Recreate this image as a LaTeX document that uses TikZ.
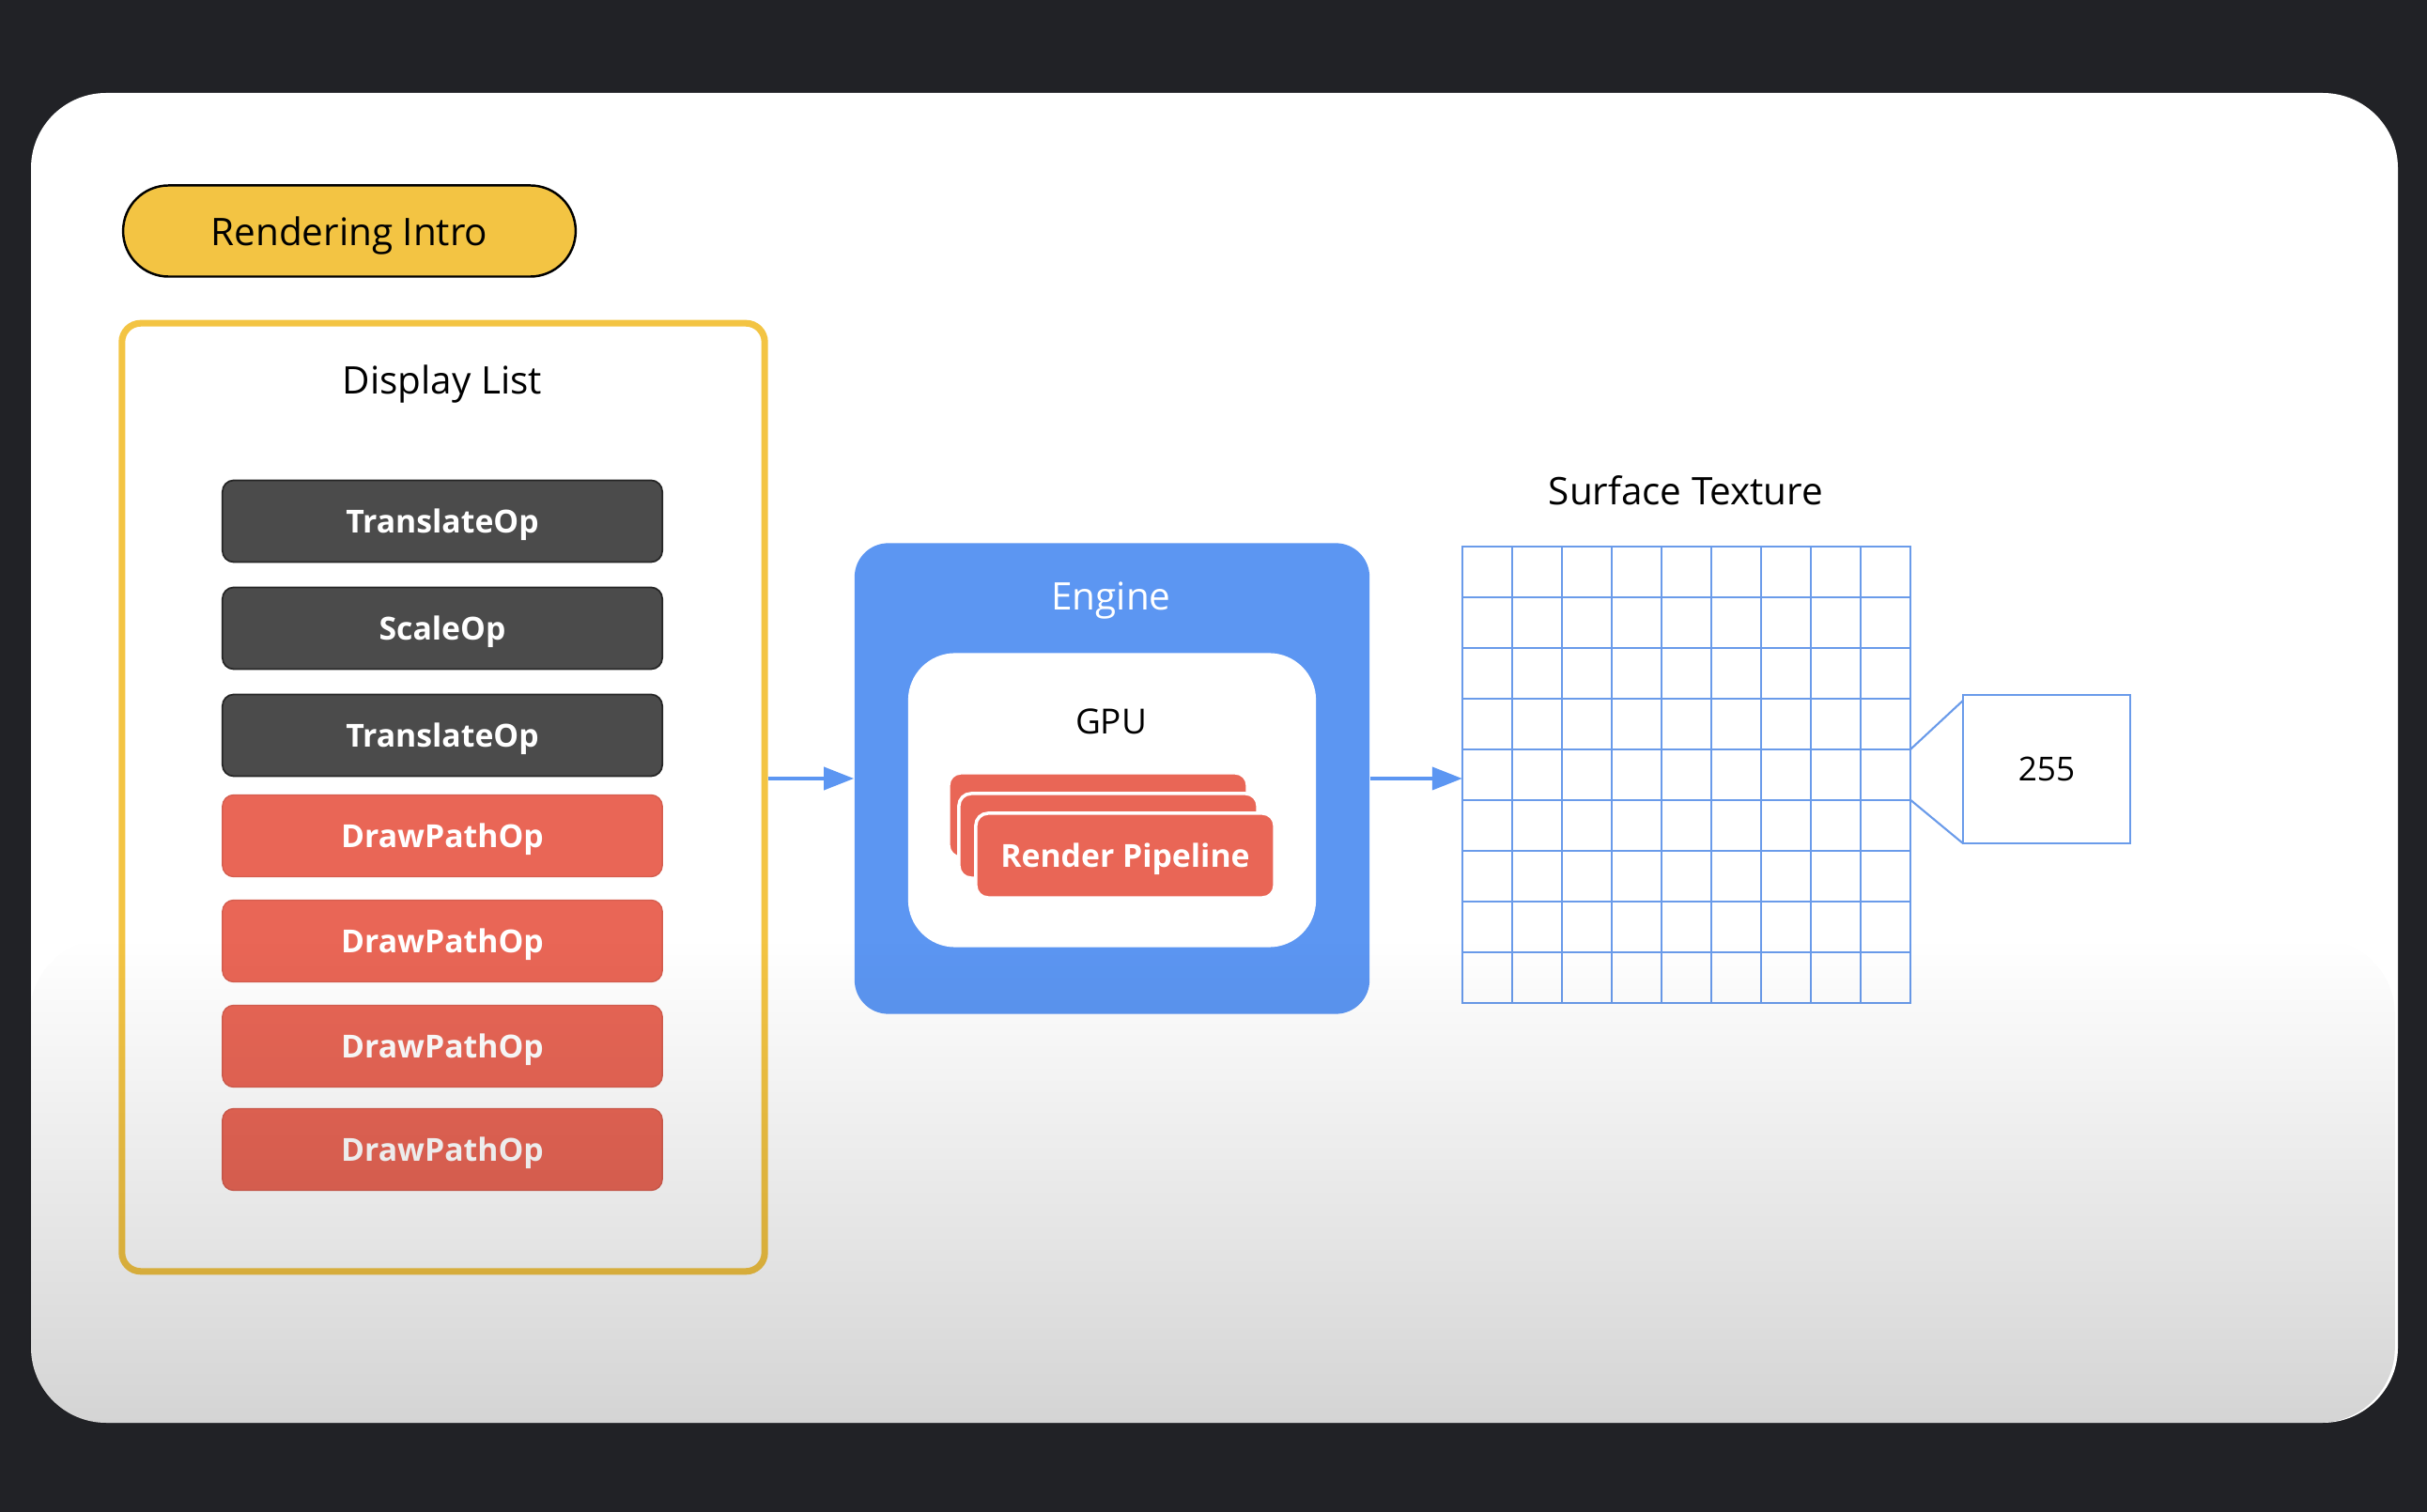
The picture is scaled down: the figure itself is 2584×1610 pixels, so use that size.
\documentclass[tikz,border=0pt]{standalone}
\usepackage{fontspec}
\setmainfont{Open Sans}
\usepackage{xcolor}
\definecolor{screendark}{RGB}{33,34,38}
\definecolor{introyellow}{RGB}{243,196,67}
\definecolor{opgrey}{RGB}{75,75,75}
\definecolor{opred}{RGB}{233,102,86}
\definecolor{engineblue}{RGB}{92,150,242}
\definecolor{gridblue}{RGB}{106,155,234}
\usepackage{tikz}
\usetikzlibrary{calc}
\usetikzlibrary{shapes.misc}
\usetikzlibrary{arrows.meta}
\usetikzlibrary{fadings}
\tikzfading[name=fade down, top color=transparent!100, bottom color=transparent!0]
\newcommand{\labelfont}{\fontsize{11.5}{14}\selectfont}
\newcommand{\opfont}{\fontsize{9.6}{12}\selectfont\bfseries}
\newcommand{\gpufont}{\fontsize{10.5}{13}\selectfont}
\newcommand{\valuefont}{\fontsize{10}{12}\selectfont}
\newcommand{\widthop}{4.68cm}
\newcommand{\heightop}{0.87cm}
\newcommand{\widthpipe}{3.18cm}
\newcommand{\cellw}{53}
\newcommand{\cellh}{54}
\tikzset{
    common/.style={rectangle, minimum height=\heightop, inner sep=0pt, text depth=0pt},
    op/.style={common, rounded corners=0.12cm, minimum width=\widthop, text=white, font=\opfont},
    greyop/.style={op, fill=opgrey, draw=black!85, line width=0.5pt},
    redop/.style={op, fill=opred, draw=opred!92!black, line width=0.4pt},
    pill/.style={draw=black, fill=introyellow, rounded rectangle, minimum width=5.05cm, minimum height=0.97cm, line width=0.7pt, text depth=0pt, font=\labelfont},
    listframe/.style={draw=introyellow, line width=2pt, rounded corners=0.2cm, minimum width=6.84cm, minimum height=10.09cm},
    heading/.style={font=\labelfont, inner sep=0pt, text depth=0pt},
    enginebox/.style={fill=engineblue, rounded corners=0.36cm, minimum width=5.48cm, minimum height=5.01cm},
    gpubox/.style={fill=white, rounded corners=0.5cm, minimum width=4.34cm, minimum height=3.13cm},
    pipeline/.style={common, fill=opred, draw=white, line width=1pt, rounded corners=0.13cm, minimum width=\widthpipe, minimum height=0.9cm, text=white, font=\opfont},
    texture/.style={draw=gridblue, line width=0.6pt, minimum width=4.77cm, minimum height=4.86cm, outer sep=0pt},
    gridline/.style={gridblue, line width=0.6pt},
    pixelbox/.style={draw=gridblue, line width=0.6pt, minimum width=1.78cm, minimum height=1.58cm, outer sep=0pt, font=\valuefont},
    flow/.style={engineblue, line width=1.1pt, -{Triangle[length=0.32cm, width=0.24cm]}}
}
\begin{document}
\begin{tikzpicture}[x=0.01cm, y=0.01cm]
    \fill[screendark] (0,0) rectangle (2584,-1610);
    \fill[white, rounded corners=0.8cm] (33,-99) rectangle (2553,-1515);

    \node[pill] (intro) at (372,-246) {Rendering Intro};
    \node[listframe] (displaylist) at (472,-849) {};
    \node[heading] (listtitle) at (471,-404) {Display List};

    \path (471,-555) node[greyop] (op1) {TranslateOp}
        to ++(270:114) node[greyop] (op2) {ScaleOp}
        to ++(270:114) node[greyop] (op3) {TranslateOp}
        to ++(270:107) node[redop] (op4) {DrawPathOp}
        to ++(270:112) node[redop] (op5) {DrawPathOp}
        to ++(270:112) node[redop] (op6) {DrawPathOp}
        to ++(270:110) node[redop] (op7) {DrawPathOp};

    \node[enginebox] (engine) at (1184,-829) {};
    \node[heading, text=white] (enginetitle) at (1183,-635) {Engine};
    \node[gpubox] (gpu) at (1184,-852) {};
    \node[heading, font=\gpufont] (gputitle) at (1183,-768) {GPU};
    \path (1169,-868) node[pipeline] (pipe3) {}
        to ++(11,-22) node[pipeline] (pipe2) {}
        to ++(18,-21) node[pipeline] (pipe1) {Render Pipeline};

    \node[texture] (surface) at (1795.5,-825) {};
    \node[heading] (surfacetitle) at (1795,-522) {Surface Texture};
    \foreach \col in {1,...,8}
        \draw[gridline] ($(surface.north west)+(\col*\cellw,0)$) -- ($(surface.south west)+(\col*\cellw,0)$);
    \foreach \row in {1,...,8}
        \draw[gridline] ($(surface.north west)+(0,-\row*\cellh)$) -- ($(surface.north east)+(0,-\row*\cellh)$);

    \node[pixelbox] (pixel) at (2179,-819) {255};
    \coordinate (rowtop) at ($(surface.north east)+(0,-4*\cellh)$);
    \coordinate (rowbottom) at ($(surface.north east)+(0,-5*\cellh)$);
    \draw[gridline] (rowtop) -- ($(pixel.north west)+(0,-6)$);
    \draw[gridline] (rowbottom) -- (pixel.south west);

    \draw[flow] (displaylist.east |- engine.west) -- (engine.west);
    \draw[flow] (engine.east) -- (surface.west |- engine.east);

    \fill[black, opacity=0.17, path fading=fade down, rounded corners=0.8cm] (33,-1000) rectangle (2553,-1515);
\end{tikzpicture}
\end{document}
